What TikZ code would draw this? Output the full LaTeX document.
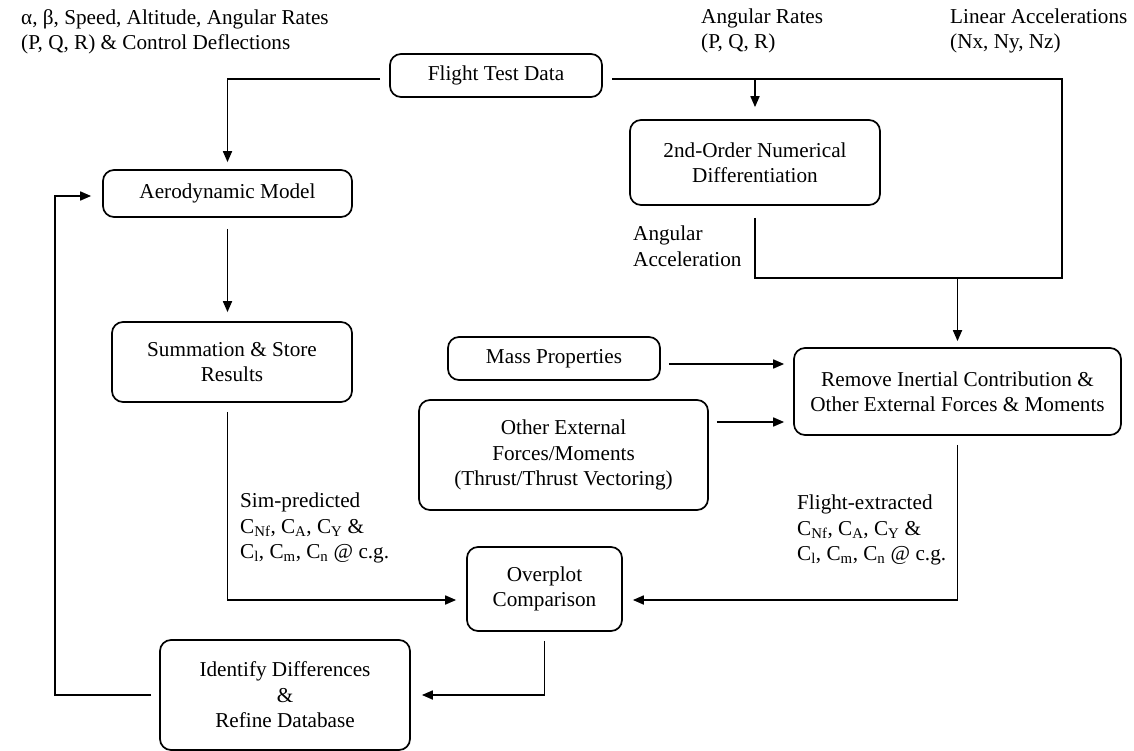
\documentclass[tikz,border=0pt]{standalone}
\usepackage{fontspec}
\setmainfont{Liberation Serif}
\usetikzlibrary{arrows.meta}
\begin{document}
\begin{tikzpicture}[x=1pt,y=-1pt,
  every node/.style={font=\fontsize{21.2}{25.5}\selectfont},
  box/.style={draw, line width=1.7pt, rounded corners=11pt, align=center, inner sep=0pt},
  lbl/.style={align=left, inner sep=0pt, anchor=west},
  conn/.style={line width=1.7pt, shorten <=9pt},
  arr/.style={conn, -{Triangle[length=11pt,width=9pt]}, shorten >=10pt}]
\useasboundingbox (0,0) rectangle (1134,751);
% boxes
\node[box, minimum width=212pt, minimum height=43pt] (ftd) at (496,75.5) {Flight Test Data};
\node[box, minimum width=249pt, minimum height=47pt] (aero) at (227.5,193.5) {Aerodynamic Model};
\node[box, minimum width=250pt, minimum height=85pt] (diff) at (755,162.5) {2nd-Order Numerical\\Differentiation};
\node[box, minimum width=240pt, minimum height=80pt] (sum) at (232,362) {Summation \& Store\\Results};
\node[box, minimum width=212pt, minimum height=43pt] (mass) at (554,358.5) {Mass Properties};
\node[box, minimum width=289pt, minimum height=110pt] (other) at (563.5,455) {Other External\\Forces/Moments\\(Thrust/Thrust Vectoring)};
\node[box, minimum width=327pt, minimum height=87pt] (remove) at (957.5,391.5) {Remove Inertial Contribution \&\\Other External Forces \& Moments};
\node[box, minimum width=155pt, minimum height=84pt] (over) at (544.5,589) {Overplot\\Comparison};
\node[box, minimum width=250pt, minimum height=110pt] (ident) at (285,695) {Identify Differences\\\&\\Refine Database};
% labels
\node[lbl] (inp) at (21,32) {α, β, Speed, Altitude, Angular Rates\\(P, Q, R) \& Control Deflections};
\node[lbl] (angr) at (701,31) {Angular Rates\\(P, Q, R)};
\node[lbl] (lin) at (950,31) {Linear Accelerations\\(Nx, Ny, Nz)};
\node[lbl] (anga) at (633,246) {Angular\\Acceleration};
\node[lbl] (sim) at (240,528) {Sim-predicted\\C\textsubscript{Nf}, C\textsubscript{A}, C\textsubscript{Y} \&\\C\textsubscript{l}, C\textsubscript{m}, C\textsubscript{n} @ c.g.};
\node[lbl] (fex) at (797,530) {Flight-extracted\\C\textsubscript{Nf}, C\textsubscript{A}, C\textsubscript{Y} \&\\C\textsubscript{l}, C\textsubscript{m}, C\textsubscript{n} @ c.g.};
% helper coordinates
\coordinate (tr) at (1062,79);
\coordinate (br) at (1062,278);
\coordinate (ovy) at (0,600);
\coordinate (m1) at (0,364);
\coordinate (m2) at (0,422);
\coordinate (fb) at (55,196);
% connectors
\draw[arr, shorten >=7pt] (tr -| ftd.west) -| (aero.north);
\draw[conn, shorten <=12pt, shorten >=9pt] (diff.south) |- (br) -- (tr) -- (tr -| ftd.east);
\draw[arr, shorten <=0pt, shorten >=12pt] (tr -| diff.north) -- (diff.north);
\draw[arr, shorten <=0pt, shorten >=6pt] (br -| remove.north) -- (remove.north);
\draw[arr, shorten <=11pt, shorten >=9pt] (aero.south) -- (aero.south |- sum.north);
\draw[arr] (sum.south -| aero.south) |- (over.west |- ovy);
\draw[arr] (remove.south) |- (over.east |- ovy);
\draw[arr, shorten >=11pt] (over.south) |- (ident.east);
\draw[arr, shorten <=8pt, shorten >=11pt] (ident.west) -| (fb) -- (fb -| aero.west);
\draw[arr, shorten <=8pt, shorten >=9pt] (mass.east |- m1) -- (remove.west |- m1);
\draw[arr, shorten <=8pt, shorten >=9pt] (other.east |- m2) -- (remove.west |- m2);
\end{tikzpicture}
\end{document}
